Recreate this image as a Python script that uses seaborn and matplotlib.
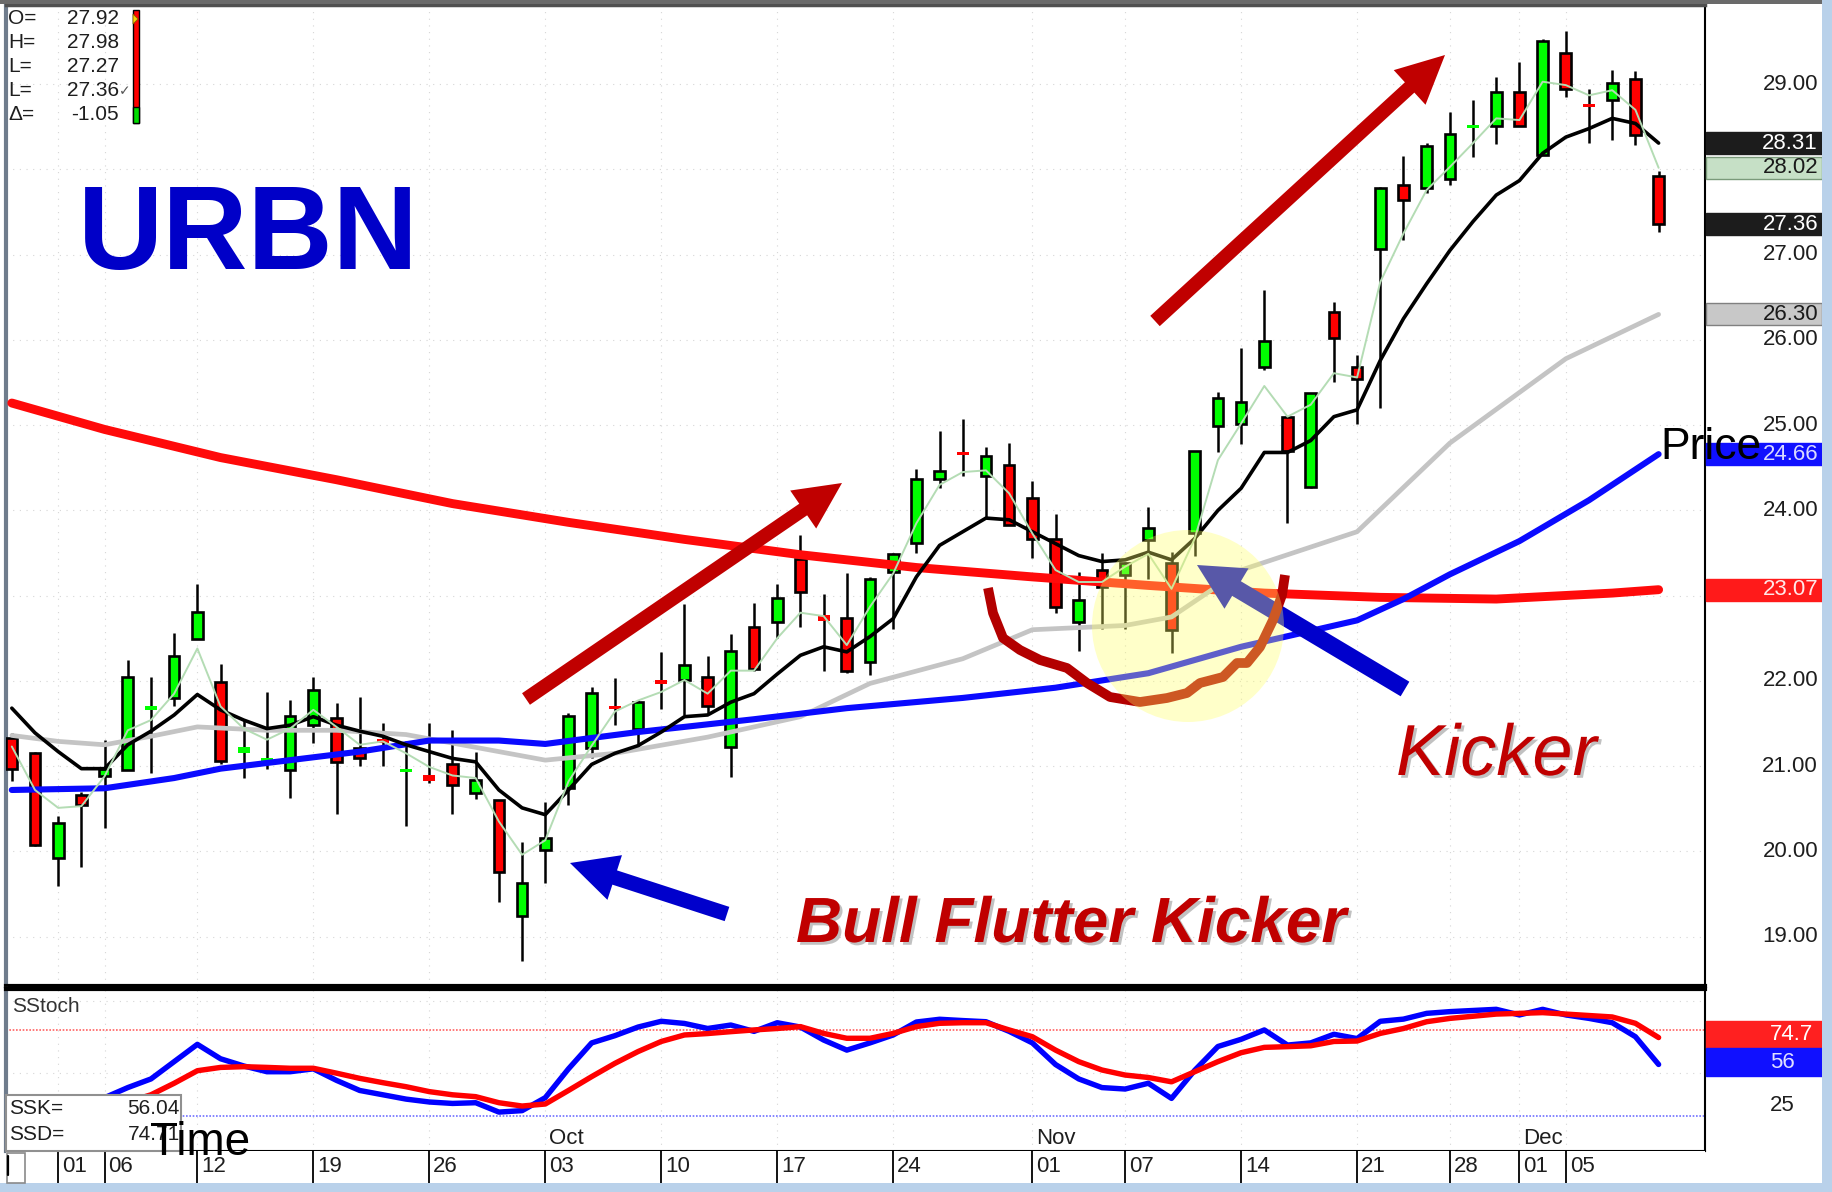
import numpy as np
import pandas as pd
import matplotlib
matplotlib.use("Agg")
import matplotlib.pyplot as plt
import matplotlib.patheffects as pe
from matplotlib.patches import Rectangle, Circle, FancyArrow, Polygon
from matplotlib.transforms import blended_transform_factory
import seaborn as sns

# daily candles, Aug 30 .. Dec 9 (72 trading days)
opens = [21.33, 21.15, 19.92, 20.66, 20.88, 20.96, 21.67, 21.80, 22.49, 21.99,
         21.15, 21.07, 20.96, 21.48, 21.57, 21.21, 21.31, 20.93, 20.89, 21.03,
         20.69, 20.60, 19.24, 20.02, 20.74, 21.21, 21.70, 21.44, 22.00, 22.01,
         22.04, 21.22, 22.63, 22.69, 23.43, 22.77, 22.74, 22.22, 23.28, 23.62,
         24.37, 24.68, 24.40, 24.53, 24.15, 23.66, 22.69, 23.30, 23.24, 23.65,
         23.38, 23.73, 24.99, 25.01, 25.68, 25.10, 24.28, 26.33, 25.68, 27.07,
         27.82, 27.78, 27.89, 28.49, 28.51, 28.91, 28.17, 29.37, 28.76, 28.81,
         29.06, 27.92]
highs = [21.39, 21.17, 20.41, 20.70, 21.31, 22.25, 22.05, 22.56, 23.14, 22.20,
         21.54, 21.87, 21.78, 22.05, 21.74, 21.81, 21.50, 21.29, 21.50, 21.42,
         21.16, 20.60, 20.11, 20.58, 21.62, 21.93, 22.03, 21.77, 22.34, 22.90,
         22.29, 22.55, 22.91, 23.14, 23.71, 23.02, 23.26, 23.22, 23.50, 24.49,
         24.93, 25.07, 24.74, 24.79, 24.35, 23.96, 23.28, 23.50, 23.39, 24.04,
         23.51, 24.70, 25.39, 25.90, 26.59, 25.10, 25.38, 26.44, 25.82, 27.80,
         28.16, 28.31, 28.68, 28.82, 29.09, 29.26, 29.53, 29.63, 28.95, 29.17,
         29.15, 27.98]
lows = [20.82, 20.06, 19.59, 19.82, 20.27, 20.96, 20.92, 21.70, 22.49, 21.03,
        20.86, 20.97, 20.63, 21.27, 20.44, 21.00, 21.00, 20.30, 20.80, 20.44,
        20.61, 19.41, 18.71, 19.63, 20.54, 21.09, 21.48, 21.22, 21.67, 21.60,
        21.62, 20.87, 22.12, 22.50, 22.63, 22.12, 22.09, 22.07, 22.61, 23.50,
        24.26, 24.40, 23.91, 23.83, 23.44, 22.80, 22.35, 22.61, 22.61, 23.20,
        22.33, 23.46, 24.69, 24.78, 25.65, 23.85, 24.26, 25.51, 25.01, 25.20,
        27.17, 27.73, 27.82, 28.15, 28.30, 28.51, 28.17, 28.85, 28.31, 28.35,
        28.29, 27.27]
closes = [20.97, 20.08, 20.33, 20.54, 20.97, 22.04, 21.69, 22.29, 22.81, 21.06,
          21.22, 21.09, 21.59, 21.89, 21.05, 21.09, 21.28, 20.97, 20.82, 20.78,
          20.84, 19.76, 19.63, 20.16, 21.59, 21.86, 21.68, 21.75, 21.97, 22.19,
          21.71, 22.35, 22.14, 22.97, 23.04, 22.70, 22.12, 23.19, 23.49, 24.37,
          24.46, 24.65, 24.64, 23.83, 23.66, 22.87, 22.95, 23.10, 23.38, 23.79,
          22.60, 24.70, 25.32, 25.27, 25.99, 24.70, 25.38, 26.02, 25.54, 27.78,
          27.64, 28.27, 28.42, 28.52, 28.91, 28.51, 29.51, 28.95, 28.74, 29.02,
          28.41, 27.36]

# moving averages
ma_black = [21.68, 21.39, 21.17, 20.97, 20.97, 21.25, 21.41, 21.60, 21.84, 21.66,
            21.54, 21.44, 21.48, 21.58, 21.48, 21.41, 21.35, 21.25, 21.17, 21.09,
            21.05, 20.72, 20.51, 20.43, 20.72, 21.02, 21.15, 21.24, 21.40, 21.58,
            21.60, 21.75, 21.85, 22.08, 22.30, 22.40, 22.34, 22.52, 22.73, 23.22,
            23.59, 23.75, 23.91, 23.89, 23.75, 23.61, 23.47, 23.40, 23.42, 23.51,
            23.42, 23.67, 24.00, 24.26, 24.68, 24.68, 24.82, 25.10, 25.18, 25.76,
            26.25, 26.66, 27.05, 27.39, 27.70, 27.87, 28.19, 28.38, 28.48, 28.60,
            28.54, 28.31]
ma_fast = [21.23, 20.72, 20.51, 20.53, 20.88, 21.42, 21.54, 21.85, 22.38, 21.70,
           21.44, 21.31, 21.44, 21.66, 21.46, 21.25, 21.29, 21.15, 20.99, 20.89,
           20.86, 20.35, 19.96, 20.13, 20.82, 21.24, 21.64, 21.77, 21.87, 22.01,
           21.85, 22.12, 22.12, 22.50, 22.80, 22.76, 22.42, 22.87, 23.26, 23.85,
           24.30, 24.45, 24.47, 24.20, 23.73, 23.30, 23.16, 23.16, 23.34, 23.49,
           23.08, 23.67, 24.59, 25.02, 25.46, 25.10, 25.24, 25.61, 25.56, 26.68,
           27.25, 27.76, 28.03, 28.31, 28.60, 28.58, 29.03, 28.99, 28.87, 28.93,
           28.70, 28.02]
gray_idx = [0, 2, 4, 6, 8, 11, 14, 17, 20, 23, 26, 30, 34, 37, 41, 44, 48, 50, 53, 58, 62, 67, 71]
gray_val = [21.36, 21.29, 21.25, 21.35, 21.46, 21.42, 21.42, 21.37, 21.22, 21.07, 21.15, 21.34,
            21.58, 21.97, 22.26, 22.60, 22.65, 22.75, 23.30, 23.75, 24.79, 25.78, 26.30]
blue_idx = [0, 4, 7, 9, 12, 15, 18, 21, 23, 25, 27, 32, 36, 41, 45, 49, 53, 58, 60, 62, 65, 68, 71]
blue_val = [20.72, 20.74, 20.86, 20.97, 21.07, 21.17, 21.30, 21.30, 21.26, 21.33, 21.40, 21.55,
            21.68, 21.80, 21.92, 22.09, 22.40, 22.71, 22.96, 23.25, 23.64, 24.12, 24.66]
red_idx = [0, 4, 9, 14, 19, 24, 29, 34, 39, 44, 49, 54, 59, 64, 69, 71]
red_val = [25.26, 24.95, 24.62, 24.36, 24.08, 23.86, 23.66, 23.48, 23.33, 23.22, 23.12, 23.03,
           22.98, 22.96, 23.03, 23.07]

# slow stochastic
ssk_idx = list(range(3, 72))
ssk = [28, 33, 40, 46, 58, 70, 60, 55, 51, 51, 53, 45, 38, 35, 32, 30, 29, 29.5, 23, 24,
       33, 53, 71, 76, 82, 86, 84.5, 81, 83.4, 79, 85, 82, 73, 66, 71, 76.5, 85.5, 87.4, 86.5,
       85.7, 79, 71, 56, 46, 40, 39, 43, 32.5, 52, 68.5, 73.5, 80, 69.5, 71, 77, 74, 86, 87.5,
       91.5, 92.7, 93.5, 94.3, 90.4, 94.3, 90.4, 88, 85, 75.3, 56.04]
ssd_idx = list(range(4, 72))
ssd = [28, 30, 35, 43, 51.7, 54, 54.5, 54, 53.4, 53.4, 50, 46.4, 43.4, 40.6, 37.2, 35, 33.7,
       29.5, 27.2, 28.6, 38, 47.6, 56.8, 65, 72, 76.5, 77.5, 78.8, 80, 81, 82.3, 77.6, 74.2,
       74.2, 77.6, 82.3, 84.6, 85, 85, 80, 75.3, 66, 58, 52.2, 48.7, 47, 44, 51, 58, 64.2, 67.9,
       68.4, 69, 72, 72.3, 77.6, 81, 85.7, 88, 89.5, 91, 91.5, 92, 91, 90, 89, 84.6, 74.71]

tick_idx = [2, 4, 8, 13, 18, 23, 28, 33, 38, 44, 48, 53, 58, 62, 65, 67]
tick_lab = ['01', '06', '12', '19', '26', '03', '10', '17', '24', '01', '07', '14', '21', '28', '01', '05']
month_idx = [23, 44, 65]
month_lab = ['Oct', 'Nov', 'Dec']
price_ticks = [19, 20, 21, 22, 23, 24, 25, 26, 27, 28, 29]
price_labels_shown = [19, 20, 21, 22, 24, 25, 26, 27, 29]   # 23 and 28 sit under the tags
tag_vals = [28.31, 28.02, 27.36, 26.30, 24.66, 23.07]

sns.set_style("white")
plt.rcParams['font.family'] = ['Liberation Sans', 'DejaVu Sans']
NARROW = ['Liberation Sans Narrow', 'Liberation Sans', 'DejaVu Sans']

W, H = 1833, 1192
fig = plt.figure(figsize=(W / 100, H / 100), dpi=100)
fig.patch.set_facecolor('white')


def box(l, t, r, b):
    return [l / W, 1 - b / H, (r - l) / W, (b - t) / H]


L_PX, R_PX = 6, 1705


def xfrac(px):
    return (px - L_PX) / (R_PX - L_PX)


ax = fig.add_axes(box(L_PX, 5, R_PX, 986))
axs = fig.add_axes(box(L_PX, 989, R_PX, 1151))
axd = fig.add_axes(box(L_PX, 1151, R_PX, 1183))
for a in (ax, axs, axd):
    a.set_xlim(-0.25, 73.0)
    a.set_xticks([])
    a.set_yticks([])
ax.set_ylim(18.42, 29.93)
axs.set_ylim(-4, 108.4)
axd.set_ylim(0, 1)

# faint dotted grid
grid_kw = dict(color='#d6d6d6', lw=0.8, ls=(0, (1, 5)), zorder=0)
for p in price_ticks:
    ax.axhline(p, **grid_kw)
for t in tick_idx:
    ax.axvline(t, **grid_kw)
    axs.axvline(t, **grid_kw)
axs.axhline(50, **grid_kw)
axs.axhline(100, **grid_kw)

# candles
df = pd.DataFrame({'o': opens, 'h': highs, 'l': lows, 'c': closes})
df['x'] = np.arange(len(df))
col = np.where(df.c >= df.o, '#00ff00', '#ff0000')
body = (df.c - df.o).abs()
small = (body < 0.075).values
ax.vlines(df.x, df.l, df.h, color='black', lw=1.8, zorder=2)
big = ~small
ax.bar(df.x[big], body[big], bottom=np.minimum(df.o, df.c)[big], width=0.46,
       color=col[big], edgecolor='black', linewidth=1.9, zorder=3)
hs = np.maximum(body[small], 0.04)
ax.bar(df.x[small], hs, bottom=((df.o + df.c) / 2)[small] - hs / 2, width=0.52,
       color=col[small], linewidth=0, zorder=3)

# moving averages
sns.lineplot(x=red_idx, y=red_val, ax=ax, color='#ff0a0a', lw=6.4, zorder=4)
sns.lineplot(x=gray_idx, y=gray_val, ax=ax, color='#c4c4c4', lw=3.4, zorder=4)
sns.lineplot(x=blue_idx, y=blue_val, ax=ax, color='#0a0aff', lw=4.4, zorder=4)
sns.lineplot(x=df.x, y=ma_black, ax=ax, color='black', lw=2.6, zorder=5)
sns.lineplot(x=df.x, y=ma_fast, ax=ax, color='#b4dcb4', lw=1.4, zorder=5)

# right price axis
tr = blended_transform_factory(ax.transAxes, ax.transData)
for p in price_labels_shown:
    ax.text(xfrac(1818), p, f'{p:.2f}', transform=tr, ha='right', va='center',
            fontsize=16, color='#1e1e1e', clip_on=False, zorder=4)
tag_style = [('#1c1c1c', '#1c1c1c', 'white'), ('#c6e0c6', '#7a9a7a', '#1a1a1a'),
             ('#1c1c1c', '#1c1c1c', 'white'), ('#c8c8c8', '#808080', '#1a1a1a'),
             ('#1010ff', '#1010ff', '#d8d8ff'), ('#ff1a1a', '#ff1a1a', '#ffe8e8')]
for v, (fc, ec, tc) in zip(tag_vals, tag_style):
    ax.add_patch(Rectangle((xfrac(1706), v - 0.13), xfrac(1822) - xfrac(1706), 0.26,
                           transform=tr, facecolor=fc, edgecolor=ec, lw=1, clip_on=False, zorder=6))
    ax.text(xfrac(1818), v, f'{v:.2f}', transform=tr, ha='right', va='center',
            fontsize=16, color=tc, clip_on=False, zorder=7)

# stochastic panel
sns.lineplot(x=ssk_idx, y=ssk, ax=axs, color='#0000ff', lw=3.9, zorder=3)
sns.lineplot(x=ssd_idx, y=ssd, ax=axs, color='#ff0000', lw=3.9, zorder=4)
axs.axhline(80, color='#ff6060', lw=1.2, ls=(0, (1, 1)), zorder=2)
axs.axhline(20, color='#7070ff', lw=1.2, ls=(0, (1, 1)), zorder=2)
trs = blended_transform_factory(axs.transAxes, axs.transData)
axs.text(xfrac(1770), 27.5, '25', transform=trs, ha='left', va='center', fontsize=16,
         color='#1e1e1e', clip_on=False, zorder=4)
axs.add_patch(Rectangle((xfrac(1706), 67.5), xfrac(1822) - xfrac(1706), 18.7, transform=trs,
                        facecolor='#ff2020', edgecolor='#ff2020', clip_on=False, zorder=6))
axs.add_patch(Rectangle((xfrac(1706), 48.0), xfrac(1822) - xfrac(1706), 19.5, transform=trs,
                        facecolor='#1010ff', edgecolor='#1010ff', clip_on=False, zorder=6))
axs.text(xfrac(1770), 76.8, f'{ssd[-1]:.1f}', transform=trs, ha='left', va='center',
         fontsize=16, color='white', clip_on=False, zorder=7)
axs.text(xfrac(1770), 57.7, f'{ssk[-1]:.0f}', transform=trs, ha='left', va='center',
         fontsize=16, color='#e0e0ff', clip_on=False, zorder=7)
for t, lab in zip(month_idx, month_lab):
    axs.text(t + 0.15, 5.0, lab, family=NARROW, fontsize=16, va='center', ha='left',
             color='#1e1e1e', zorder=5)

# date axis
axd.vlines(tick_idx, 0.0, 1.0, color='black', lw=1.3)
for t, lab in zip(tick_idx, tick_lab):
    axd.text(t + 0.17, 0.5, lab, family=NARROW, fontsize=16, va='center', ha='left',
             color='#1e1e1e')

# spines
for s in ax.spines.values():
    s.set_color('black')
    s.set_linewidth(1.5)
ax.spines['left'].set_color('#6f7c8c')
ax.spines['left'].set_linewidth(3)
ax.spines['bottom'].set_linewidth(3)
ax.spines['top'].set_linewidth(2.5)
ax.spines['top'].set_color('#505050')
for s in axs.spines.values():
    s.set_color('black')
    s.set_linewidth(1.5)
axs.spines['top'].set_linewidth(3)
axs.spines['left'].set_color('#6f7c8c')
axs.spines['left'].set_linewidth(3)
for s in axd.spines.values():
    s.set_visible(False)

# overlay in pixel coordinates for the annotations
ov = fig.add_axes([0, 0, 1, 1], zorder=10)
ov.set_xlim(0, W)
ov.set_ylim(H, 0)
ov.axis('off')

ov.add_patch(Rectangle((1822, 0), 11, H, color='#b9d1ea', lw=0))
ov.add_patch(Rectangle((0, 1183), W, 9, color='#b9d1ea', lw=0))
ov.add_patch(Rectangle((0, 0), 1822, 4, color='#6a6a6a', lw=0))
ov.add_patch(Rectangle((7, 1153), 18, 30, facecolor='white', edgecolor='#8a8a8a', lw=1.2))
ov.plot([8, 8], [1156, 1175], color='black', lw=1.6)

# top-left quote box
q_labels = ['O=', 'H=', 'L=', 'L=', 'Δ=']
q_vals = [opens[-1], highs[-1], lows[-1], closes[-1], closes[-1] - closes[-2]]
for k, (lab, v) in enumerate(zip(q_labels, q_vals)):
    yy = 18 + k * 24.2
    ov.text(8, yy, lab, fontsize=15, va='center', ha='left', color='#1e1e1e')
    ov.text(119, yy, f'{v:.2f}', fontsize=15, va='center', ha='right', color='#1e1e1e')
ov.text(119, 91, '✓', fontsize=10, va='center', ha='left', color='#555555',
        family=['DejaVu Sans'])
ov.add_patch(Rectangle((133, 10), 6, 113, facecolor='#ff0000', edgecolor='black', lw=1))
ov.add_patch(Rectangle((133, 107), 6, 16, facecolor='#00dd00', edgecolor='black', lw=1))
ov.add_patch(Polygon([(133, 14), (133, 24), (138, 19)], closed=True, facecolor='#ffd200',
                     edgecolor='#806000', lw=0.6))

ov.text(12, 1006, 'SStoch', family=NARROW, fontsize=15, va='center', ha='left', color='#333333')

# arrows and highlight
def arrow(tail, tip, w, hw, hl, color, z=3):
    ov.add_patch(FancyArrow(tail[0], tail[1], tip[0] - tail[0], tip[1] - tail[1], width=w,
                            head_width=hw, head_length=hl, length_includes_head=True,
                            color=color, lw=0, zorder=z))


arrow((526, 699), (842, 483), 14, 46, 47, '#c00000')
arrow((1155, 321), (1445, 55), 14, 47, 48, '#c00000')
arrow((727, 914), (570, 863), 15, 47, 47, '#0000cc')
arrow((1405, 689), (1197, 565), 17, 47, 46, '#0000cc')

curve_x = [988, 993, 1003, 1020, 1040, 1067, 1087, 1110, 1140, 1167, 1187, 1200, 1223, 1237,
           1247, 1260, 1273, 1282, 1285]
curve_y = [588, 613, 638, 650, 660, 668, 683, 697, 702, 698, 693, 683, 677, 663, 663, 647,
           620, 595, 575]
ov.plot(curve_x, curve_y, color='#b30000', lw=7, solid_capstyle='butt', zorder=3)
ov.add_patch(Circle((1188, 626), 96, facecolor='#ffff66', alpha=0.35, lw=0, zorder=5))

# SSK / SSD readout
ov.add_patch(Rectangle((6, 1095), 175, 56, facecolor='white', edgecolor='#909090', lw=1.5, zorder=6))
ov.text(9, 1109, 'SSK=', family=NARROW, fontsize=15, va='center', color='#1e1e1e', zorder=7)
ov.text(180, 1109, f'{ssk[-1]:.2f}', family=NARROW, fontsize=15, va='center', ha='right',
        color='#1e1e1e', zorder=7)
ov.text(9, 1135, 'SSD=', family=NARROW, fontsize=15, va='center', color='#1e1e1e', zorder=7)
ov.text(180, 1135, f'{ssd[-1]:.2f}', family=NARROW, fontsize=15, va='center', ha='right',
        color='#1e1e1e', zorder=7)

shadow = [pe.withSimplePatchShadow(offset=(2, -2), shadow_rgbFace='#777777', alpha=0.45)]
ov.text(78, 269, 'URBN', fontsize=85, fontweight='bold', color='#0000c8', va='baseline',
        ha='left', zorder=8)
ov.text(1396, 775, 'Kicker', fontsize=52, style='italic', color='#c00000', va='baseline',
        ha='left', path_effects=shadow, zorder=8)
ov.text(796, 942, 'Bull Flutter Kicker', fontsize=46, style='italic', fontweight='bold',
        color='#c00000', va='baseline', ha='left', path_effects=shadow, zorder=8)
ov.text(1660, 459, 'Price', fontsize=32, va='baseline', ha='left', color='black', zorder=8)
ov.text(150, 1155, 'Time', fontsize=33, va='baseline', ha='left', color='black', zorder=8)

fig.savefig('out.png', dpi=100, facecolor='white')
